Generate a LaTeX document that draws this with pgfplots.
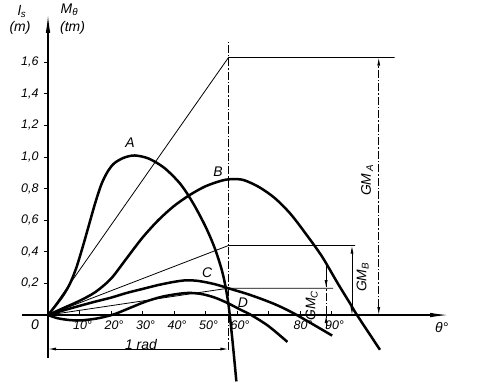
\documentclass[border=0pt]{standalone}
\usepackage{pgfplots}
\pgfplotsset{compat=1.18}
\usepackage{fontspec}
\setmainfont{Liberation Sans}
\usetikzlibrary{arrows.meta}
\tikzset{dimarr/.style={{Latex[length=8bp,width=3bp]}-{Latex[length=8bp,width=3bp]}},
  cdash/.style={line width=0.8bp, dash pattern=on 8bp off 2bp on 1.5bp off 2bp}}
\begin{document}
\begin{tikzpicture}
\begin{axis}[
 x=3.15bp, y=158bp,
 xmin=-8.4, xmax=127, ymin=-0.27, ymax=1.9,
 axis lines=middle,
 axis line style={line width=1.1bp, -{Latex[length=18bp,width=4.5bp]}},
 clip=false,
 xtick={10,20,30,40,50,60,70,80,90},
 xticklabels={10°,20°,30°,40°,50°,60°,{},80°,90°},
 ytick={0.2,0.4,0.6,0.8,1.0,1.2,1.4,1.6},
 yticklabels={{0,2},{0,4},{0,6},{0,8},{1,0},{1,2},{1,4},{1,6}},
 major tick length=4bp,
 xtick style={yshift=2bp,line width=0.8bp,black},
 ytick style={xshift=-2bp,line width=0.8bp,black},
 tick label style={font=\itshape\fontsize{12.5}{14}\selectfont},
 xticklabel style={xshift=3bp, yshift=0bp},
 yticklabel style={xshift=-4bp},
 every axis plot/.append style={black},
]
% bounding box of the reference
\path (axis cs:-15.24,-0.424) rectangle (axis cs:142.86,1.994);

% curve A
\addplot[line width=2.5bp, smooth] coordinates {(0,0) (3,0.075) (5,0.13) (7,0.2) (9,0.3) (11,0.43) (13,0.57) (15,0.71) (17,0.83) (19,0.91) (21,0.96) (24,0.995) (27.5,1.01) (32,0.99) (37,0.93) (42,0.83) (46,0.71) (50,0.56) (53,0.42) (55.5,0.26) (57.2,0.08) (58.5,-0.15) (59.8,-0.42)};
% curve B
\addplot[line width=2.5bp, smooth] coordinates {(0,0) (5,0.045) (10,0.09) (15,0.145) (20,0.23) (25,0.36) (30,0.49) (35,0.6) (40,0.69) (45,0.76) (50,0.815) (55,0.85) (58,0.86) (62,0.855) (67,0.81) (72,0.74) (77,0.64) (82,0.51) (87,0.37) (92,0.2) (96,0.07) (98.1,0) (105.4,-0.22)};
% curve C
\addplot[line width=2.5bp, smooth] coordinates {(0,0) (5,0.03) (10,0.058) (15,0.085) (20,0.11) (25,0.14) (30,0.165) (35,0.19) (40,0.21) (44,0.22) (48,0.215) (53,0.195) (58,0.165) (63,0.135) (68,0.1) (73,0.06) (79,0) (90.2,-0.13)};
% curve D
\addplot[line width=2.5bp, smooth] coordinates {(0,0) (3,-0.02) (7,-0.032) (11,-0.033) (16,-0.02) (21,0.005) (26,0.045) (31,0.085) (36,0.115) (41,0.133) (45,0.14) (49,0.132) (53,0.11) (57,0.076) (61,0.035) (64.5,0) (70,-0.07) (76,-0.17)};

% tangent lines and GM levels
\addplot[line width=0.8bp] coordinates {(0,0) (57.3,1.63) (110,1.63)};
\addplot[line width=0.8bp] coordinates {(0,0) (57.3,0.44) (97.5,0.44)};
\addplot[line width=0.8bp] coordinates {(0,0) (57.3,0.17) (90.5,0.17)};

% 1 rad vertical
\addplot[cdash] coordinates {(57.3,-0.22) (57.3,1.73)};

% GM dimension lines
\addplot[cdash, dimarr] coordinates {(105,0) (105,1.63)};
\addplot[line width=0.8bp, dimarr] coordinates {(96.5,0) (96.5,0.44)};
\addplot[cdash] coordinates {(88.3,-0.08) (88.3,0.33)};
\addplot[line width=0.8bp, -{Latex[length=8bp,width=3bp]}] coordinates {(88.3,0.27) (88.3,0.17)};
\addplot[line width=0.8bp, -{Latex[length=8bp,width=3bp]}] coordinates {(88.3,-0.09) (88.3,0)};

% 1 rad dimension
\addplot[line width=0.9bp, dimarr] coordinates {(0,-0.215) (57.3,-0.215)};

\begin{scope}[every node/.style={font=\itshape\fontsize{14}{16}\selectfont}]
\node at (axis cs:26,1.09) {A};
\node at (axis cs:54,0.91) {B};
\node at (axis cs:50.5,0.27) {C};
\node at (axis cs:61.9,0.076) {D};
\node[rotate=90] at (axis cs:101.3,0.855) {GM\,\textsubscript{A}};
\node[rotate=90] at (axis cs:99.9,0.24) {GM\textsubscript{B}};
\node[rotate=90] at (axis cs:83.7,0.06) {GM\textsubscript{C}};
\node at (axis cs:29.5,-0.185) {1 rad};
\node at (axis cs:-4.1,-0.063) {0};
\node at (axis cs:125,-0.076) {θ°};
\node at (axis cs:-8.25,1.92) {l\textsubscript{s}};
\node at (axis cs:-8.9,1.815) {(m)};
\node at (axis cs:6.8,1.93) {M\textsubscript{θ}};
\node at (axis cs:7.8,1.815) {(tm)};
\end{scope}
\end{axis}
\end{tikzpicture}
\end{document}
